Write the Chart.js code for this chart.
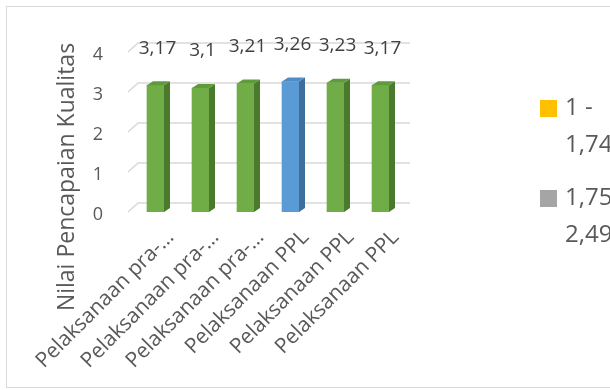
<!DOCTYPE html>
<html>
<head>
<meta charset="utf-8">
<script src="https://cdn.jsdelivr.net/npm/chart.js@4/dist/chart.umd.min.js"></script>
<style>
  html, body { margin: 0; padding: 0; background: #fff; }
  canvas { display: block; }
</style>
</head>
<body>
<canvas id="grafik" width="610" height="390"></canvas>
<script>
// ========== DATA ==========
const kategori = [
  'Pelaksanaan pra-\u2026',
  'Pelaksanaan pra-\u2026',
  'Pelaksanaan pra-\u2026',
  'Pelaksanaan PPL',
  'Pelaksanaan PPL',
  'Pelaksanaan PPL'
];
const nilai = [3.17, 3.1, 3.21, 3.26, 3.23, 3.17];
const tickSumbuY = [0, 1, 2, 3, 4];
const judulSumbuY = 'Nilai Pencapaian Kualitas';
const rentangLegenda = [['1 -', '1,74'], ['1,75', '2,49']];

// ========== WARNA ==========
const HIJAU = { depan: '#70ad47', samping: '#4b7a2e', atas: '#5f9a3b' };
const BIRU = { depan: '#5b9bd5', samping: '#3e6e9c', atas: '#4f8cc4' };
const warnaLegenda = ['#ffc000', '#a5a5a5'];
const ABU_TEKS = '#595959';
const FONT = '"Open Sans", "Noto Sans", sans-serif';

// batang >= 3,25 masuk rentang biru, sisanya hijau
const warnaBatang = nilai.map(v => v >= 3.25 ? BIRU : HIJAU);

const DX = 6, DY = -4;          // kedalaman batang 3D
const WALL_DX = 5, WALL_DY = -9; // kedalaman dinding belakang

// ========== PLUGIN ==========
const bingkai = {
  id: 'bingkai',
  beforeDraw(chart) {
    const c = chart.ctx;
    c.save();
    c.strokeStyle = '#d9d9d9';
    c.lineWidth = 1;
    c.strokeRect(6.5, 6.5, 700, 381);
    c.restore();
  }
};

// garis grid di dinding belakang + lantai miring
const dinding = {
  id: 'dinding',
  beforeDatasetsDraw(chart) {
    const { ctx: c, chartArea: a, scales } = chart;
    c.save();
    c.strokeStyle = '#d9d9d9';
    c.lineWidth = 1.5;
    tickSumbuY.forEach(v => {
      const y = scales.y.getPixelForValue(v);
      c.beginPath();
      c.moveTo(a.left - WALL_DX, y);
      c.lineTo(a.left + WALL_DX, y + WALL_DY);
      c.lineTo(a.right + 7, y + WALL_DY);
      c.stroke();
    });
    c.restore();
  }
};

// sisi samping dan atas tiap batang
const batang3d = {
  id: 'batang3d',
  afterDatasetsDraw(chart) {
    const c = chart.ctx;
    const meta = chart.getDatasetMeta(0);
    c.save();
    meta.data.forEach((bar, i) => {
      const w = bar.width / 2;
      const kanan = bar.x + w, kiri = bar.x - w;
      const warna = warnaBatang[i];
      c.fillStyle = warna.samping;
      c.beginPath();
      c.moveTo(kanan, bar.y);
      c.lineTo(kanan + DX, bar.y + DY);
      c.lineTo(kanan + DX, bar.base + DY);
      c.lineTo(kanan, bar.base);
      c.closePath();
      c.fill();
      c.fillStyle = warna.atas;
      c.beginPath();
      c.moveTo(kiri, bar.y);
      c.lineTo(kiri + DX, bar.y + DY);
      c.lineTo(kanan + DX, bar.y + DY);
      c.lineTo(kanan, bar.y);
      c.closePath();
      c.fill();
    });
    c.restore();
  }
};

const labelNilai = {
  id: 'labelNilai',
  afterDatasetsDraw(chart) {
    const c = chart.ctx;
    const meta = chart.getDatasetMeta(0);
    c.save();
    c.font = '19px ' + FONT;
    c.fillStyle = '#404040';
    c.textAlign = 'center';
    c.textBaseline = 'middle';
    meta.data.forEach((bar, i) => {
      c.fillText(String(nilai[i]).replace('.', ','), bar.x + 2, bar.y - 37);
    });
    c.restore();
  }
};

const judulDanLegenda = {
  id: 'judulDanLegenda',
  afterDraw(chart) {
    const c = chart.ctx;
    c.save();
    // judul sumbu Y
    c.translate(67, 177);
    c.rotate(-Math.PI / 2);
    c.font = '23px ' + FONT;
    c.fillStyle = ABU_TEKS;
    c.textAlign = 'center';
    c.textBaseline = 'middle';
    c.fillText(judulSumbuY, 0, 0);
    c.restore();

    // legenda kanan
    c.save();
    c.font = '24px ' + FONT;
    c.fillStyle = ABU_TEKS;
    c.textBaseline = 'middle';
    rentangLegenda.forEach((baris, i) => {
      const y0 = 108 + i * 90;
      c.fillStyle = warnaLegenda[i];
      c.fillRect(540, y0 - 8, 17, 17);
      c.fillStyle = ABU_TEKS;
      baris.forEach((t, j) => c.fillText(t, 565, y0 + j * 37));
    });
    c.restore();
  }
};

// ========== CHART ==========
new Chart(document.getElementById('grafik'), {
  type: 'bar',
  data: {
    labels: kategori,
    datasets: [{
      data: nilai,
      backgroundColor: warnaBatang.map(w => w.depan),
      barThickness: 17,
      borderWidth: 0
    }]
  },
  options: {
    responsive: false,
    animation: false,
    layout: { padding: { top: 52, right: 207, left: 0, bottom: 0 } },
    plugins: {
      legend: { display: false },
      tooltip: { enabled: false }
    },
    scales: {
      x: {
        grid: { display: false, drawTicks: false },
        border: { display: false },
        ticks: {
          autoSkip: false,
          maxRotation: 45,
          minRotation: 45,
          color: ABU_TEKS,
          font: { family: FONT, size: 21 },
          padding: 13,
          labelOffset: 15
        },
        afterFit: s => { s.height = 178; }
      },
      y: {
        min: 0,
        max: 4,
        grid: { display: false, drawTicks: false },
        border: { display: false },
        ticks: {
          stepSize: 1,
          color: ABU_TEKS,
          font: { family: FONT, size: 18 },
          padding: 30,
          labelOffset: 3
        },
        afterFit: s => { s.width = 133; }
      }
    }
  },
  plugins: [bingkai, dinding, batang3d, labelNilai, judulDanLegenda]
});
</script>
</body>
</html>
